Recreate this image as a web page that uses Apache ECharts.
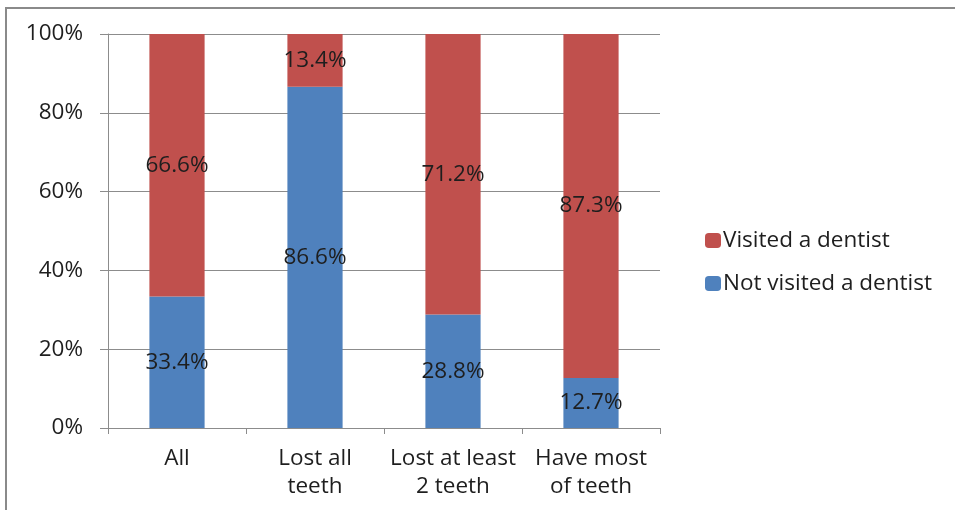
<!DOCTYPE html>
<html>
<head>
<meta charset="utf-8">
<script src="https://cdn.jsdelivr.net/npm/echarts@6/dist/echarts.min.js"></script>
<style>
  html, body { margin: 0; padding: 0; background: #fff; }
  #frame { position: absolute; left: 5px; top: 7px; width: 960px; height: 520px;
           border-left: 2px solid #8a8a8a; border-top: 2px solid #8a8a8a; box-sizing: border-box; }
  #chart { position: absolute; left: 0; top: 0; width: 955px; height: 510px; }
</style>
</head>
<body>
<div id="frame"></div>
<div id="chart"></div>
<script>
// Share of people who visited / did not visit a dentist, by tooth-loss group
const categories = ['All', 'Lost all\nteeth', 'Lost at least\n2 teeth', 'Have most\nof teeth'];
const notVisited = [33.4, 86.6, 28.8, 12.7];
const visited = [66.6, 13.4, 71.2, 87.3];
const yTicks = [0, 20, 40, 60, 80, 100];

const FONT = '"Open Sans", Lato, sans-serif';
const FS = 22.5;
const TEXT = '#1e1e1e';
const chart = echarts.init(document.getElementById('chart'), null, { renderer: 'canvas' });

const labelStyle = {
  show: true,
  position: 'inside',
  formatter: p => p.value.toFixed(1) + '%',
  color: TEXT,
  fontSize: FS,
  fontFamily: FONT
};

chart.setOption({
  animation: false,
  backgroundColor: 'transparent',
  grid: { left: 108, right: 295, top: 34, bottom: 82 },
  legend: {
    orient: 'vertical',
    left: 700,
    top: 224,
    itemWidth: 16,
    itemHeight: 15,
    itemGap: 20,
    textStyle: { fontSize: FS, lineHeight: 22, fontFamily: FONT, color: TEXT, padding: [0, 0, 0, -3] },
    data: ['Visited a dentist', 'Not visited a dentist']
  },
  xAxis: {
    type: 'category',
    data: categories,
    axisLine: { lineStyle: { color: '#8c8c8c', width: 1 } },
    axisTick: { show: true, length: 6, lineStyle: { color: '#8c8c8c' } },
    axisLabel: { interval: 0, fontSize: FS, fontFamily: FONT, color: TEXT, lineHeight: 28, margin: 17 }
  },
  yAxis: {
    type: 'value',
    min: yTicks[0],
    max: yTicks[yTicks.length - 1],
    interval: 20,
    axisLine: { show: true, lineStyle: { color: '#8c8c8c' } },
    axisTick: { show: true, length: 8, lineStyle: { color: '#8c8c8c' } },
    axisLabel: { formatter: '{value}%', fontSize: FS, fontFamily: FONT, color: TEXT, margin: 25 },
    splitLine: { lineStyle: { color: '#8c8c8c', width: 1 } }
  },
  series: [
    {
      name: 'Not visited a dentist',
      type: 'bar',
      stack: 'total',
      barWidth: '40%',
      itemStyle: { color: '#4F81BD' },
      label: labelStyle,
      data: notVisited
    },
    {
      name: 'Visited a dentist',
      type: 'bar',
      stack: 'total',
      barWidth: '40%',
      itemStyle: { color: '#C0504D' },
      label: labelStyle,
      data: visited
    }
  ]
});
</script>
</body>
</html>
